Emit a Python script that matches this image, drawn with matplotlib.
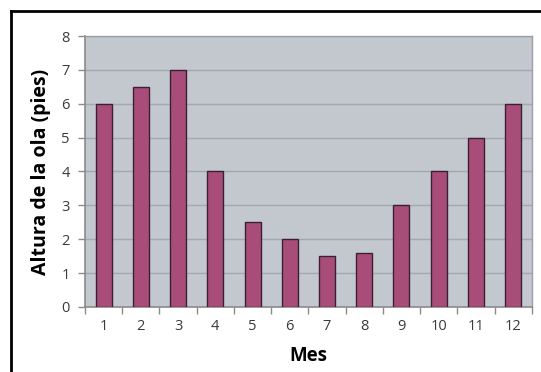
import matplotlib.pyplot as plt
from matplotlib.lines import Line2D

# monthly wave height (feet)
months = ["1", "2", "3", "4", "5", "6", "7", "8", "9", "10", "11", "12"]
heights = [6, 6.5, 7, 4, 2.5, 2, 1.5, 1.6, 3, 4, 5, 6]
yticks = [0, 1, 2, 3, 4, 5, 6, 7, 8]

plt.rcParams['font.family'] = ['Open Sans', 'DejaVu Sans']

fig = plt.figure(figsize=(5.41, 3.72), dpi=100)
ax = fig.add_axes([0.157, 0.175, 0.826, 0.728])

x = list(range(len(months)))
ax.bar(x, heights, width=0.43, color="#A84D79", edgecolor="#3a2030", linewidth=1.0, zorder=3)

ax.set_facecolor("#C3C8CE")
ax.set_xlim(-0.5, len(months) - 0.5)
ax.set_ylim(0, 8)
ax.set_yticks(yticks)
ax.yaxis.grid(True, color="#A2A8B0", linewidth=1.0, zorder=0)

ax.set_xticks(x)
ax.set_xticklabels(months)
ax.set_xticks([i - 0.5 for i in range(len(months) + 1)], minor=True)
ax.tick_params(axis="x", which="major", length=0, pad=9, labelsize=10.5, labelcolor="#3a3a3a")
ax.tick_params(axis="x", which="minor", length=5, width=1, color="#8a8a8a", direction="out")
ax.tick_params(axis="y", length=5, width=1, color="#8a8a8a", labelsize=10.5, labelcolor="#3a3a3a", pad=6)

for side in ["left", "bottom"]:
    ax.spines[side].set_color("#8a8a8a")
    ax.spines[side].set_linewidth(1.2)
for side in ["top", "right"]:
    ax.spines[side].set_color("#9aa0a8")
    ax.spines[side].set_linewidth(1.0)

ax.set_xlabel("Mes", fontsize=13.5, fontweight="bold", labelpad=8)
ax.set_ylabel("Altura de la ola (pies)", fontsize=14, fontweight="bold", labelpad=7)

# outer frame: only the top and left edges show
fig.add_artist(Line2D([0.02, 1.0], [0.970, 0.970], color="black", linewidth=2, transform=fig.transFigure))
fig.add_artist(Line2D([0.021, 0.021], [0.0, 0.970], color="black", linewidth=2, transform=fig.transFigure))

fig.savefig("out.png", dpi=100)
